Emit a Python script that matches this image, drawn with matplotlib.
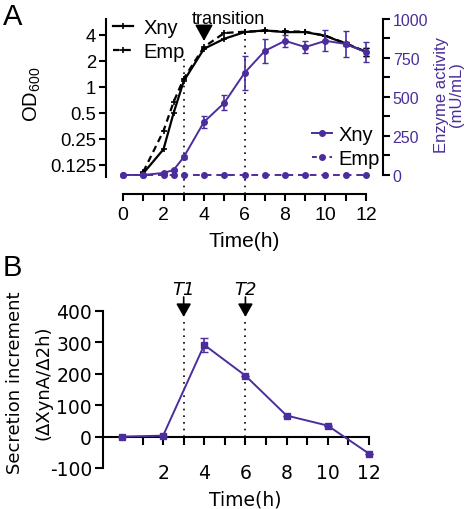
import matplotlib
matplotlib.use("Agg")
import matplotlib.pyplot as plt
import matplotlib.ticker as mticker
from matplotlib.lines import Line2D

# ---------------- data ----------------
t_od = [1, 2, 2.5, 3, 4, 5, 6, 7, 8, 9, 10, 11, 12]
od_xny = [0.1, 0.19, 0.5, 1.17, 2.76, 3.6, 4.3, 4.5, 4.3, 4.3, 3.9, 3.15, 2.54]
od_emp = [0.104, 0.31, 0.67, 1.25, 2.9, 4.2, 4.35, 4.45, 4.4, 4.35, 3.9, 3.2, 2.55]
od_err = [0, 0, 0, 0, 0, 0, 0, 0, 0, 0, 0, 0.15, 0.25]

t_enz = [0, 1, 2, 2.5, 3, 4, 5, 6, 7, 8, 9, 10, 11, 12]
enz_xny = [0, 0, 13, 32, 115, 340, 462, 654, 795, 860, 820, 860, 840, 788]
enz_xny_err = [0, 0, 5, 8, 10, 38, 48, 111, 77, 38, 38, 67, 85, 64]
enz_emp = [0, 0, 0, 0, 0, 0, 0, 0, 0, 0, 0, 0, 0, 0]

t_inc = [0, 2, 4, 6, 8, 10, 12]
inc = [0, 3, 292, 194, 67, 35, -54]
inc_err = [0, 0, 21, 0, 0, 0, 0]

od_ticks = [0.125, 0.25, 0.5, 1, 2, 4]
od_ticklabels = ["0.125", "0.25", "0.5", "1", "2", "4"]
enz_ticks = [0, 250, 500, 750, 1000]
marks_a = [3, 6]
marks_a_top = [2.1, 4.4]
marks_b = [3, 6]
marks_b_labels = ["T1", "T2"]

PURPLE = "#4B2E9C"
W, H = 474, 510

plt.rcParams["mathtext.fontset"] = "custom"
plt.rcParams["mathtext.rm"] = "Liberation Sans"
plt.rcParams["mathtext.it"] = "Liberation Sans:italic"
plt.rcParams["axes.unicode_minus"] = False

fig = plt.figure(figsize=(W / 100, H / 100), dpi=100)


def fx(px):
    return px / W


def fy(px):
    return 1 - px / H


FA = "Liberation Sans"
FB = "DejaVu Sans"
ARROW = "-|>,head_length=1.0,head_width=0.55"

# ---------------- Panel A ----------------
L, R, T, B = 106, 383, 20, 195
ax1 = fig.add_axes([fx(L), fy(B), fx(R - L), (B - T) / H])
ax1.set_yscale("log", base=2)
ax1.set_ylim(0.0577, 6.1)
ax1.set_xlim(-0.84, 12.84)

ax1.plot(t_od, od_xny, color="black", lw=1.6, marker="+", ms=5, mew=1.2, clip_on=False)
ax1.plot(t_od, od_emp, color="black", lw=1.6, ls=(0, (3, 2)), marker="+", ms=5,
         mew=1.2, clip_on=False)
for series in (od_xny, od_emp):
    xs = [t for t, e in zip(t_od, od_err) if e > 0]
    ys = [v for v, e in zip(series, od_err) if e > 0]
    es = [e for e in od_err if e > 0]
    ax1.errorbar(xs, ys, yerr=es, fmt="none", ecolor="black", elinewidth=1,
                 capsize=2.5)

ax1.set_yticks(od_ticks)
ax1.set_yticklabels(od_ticklabels)
ax1.yaxis.set_minor_locator(mticker.NullLocator())
ax1.set_xticks(range(0, 13, 2))
ax1.set_xticks(range(1, 13, 2), minor=True)
for sp in ["top", "right"]:
    ax1.spines[sp].set_visible(False)
ax1.spines["left"].set_bounds(0.091, 6.1)
ax1.spines["bottom"].set_bounds(0, 12)
for sp in ["left", "bottom"]:
    ax1.spines[sp].set_linewidth(1.5)
ax1.tick_params(axis="both", which="both", width=1.5, length=5)
ax1.tick_params(axis="y", pad=2, labelsize=13.3)
ax1.tick_params(axis="x", labelsize=14)
for lab in ax1.get_xticklabels() + ax1.get_yticklabels():
    lab.set_fontfamily(FA)

# dotted vertical markers
ax1.vlines(marks_a, 0.0577, marks_a_top, colors="black", linestyles=(0, (1, 3)), lw=1.2)

# transition arrow
ax1.annotate("", xy=(4, (B - 42) / (B - T)), xycoords=("data", "axes fraction"),
             xytext=(4, (B - 27) / (B - T)), textcoords=("data", "axes fraction"),
             arrowprops=dict(arrowstyle=ARROW, color="black", lw=1.2,
                             shrinkA=0, shrinkB=0))
ax1.text(5.2, (B - 24) / (B - T), "transition", transform=ax1.get_xaxis_transform(),
         ha="center", va="baseline", fontsize=13, family=FA)

h_black = [Line2D([], [], color="black", lw=1.6, marker="+", ms=5, mew=1.2),
           Line2D([], [], color="black", lw=1.6, ls=(0, (3, 2)), marker="+", ms=5, mew=1.2)]
ax1.legend(h_black, ["Xny", "Emp"], loc="upper left", bbox_to_anchor=(fx(113), fy(19)),
           bbox_transform=fig.transFigure, frameon=False, handlelength=1.0,
           handletextpad=0.5, labelspacing=0.25, borderaxespad=0, borderpad=0,
           prop={"family": FA, "size": 14.5})

ax2 = ax1.twinx()
ax2.set_ylim(-122, 1000)
ax2.errorbar(t_enz, enz_xny, yerr=enz_xny_err, color=PURPLE, lw=1.4, marker="o",
             ms=4, capsize=2.5, elinewidth=1.2, clip_on=False)
ax2.plot(t_enz, enz_emp, color=PURPLE, lw=1.4, ls=(0, (3.5, 2.5)), marker="o", ms=4,
         clip_on=False)
for sp in ["top", "left", "bottom"]:
    ax2.spines[sp].set_visible(False)
ax2.spines["right"].set_bounds(0, 1000)
ax2.spines["right"].set_linewidth(1.5)
ax2.set_yticks(enz_ticks)
ax2.set_yticks([125, 375, 625, 875], minor=True)
ax2.tick_params(axis="y", which="both", width=1.5, length=5, labelsize=11.5,
                labelcolor=PURPLE, pad=2)
for lab in ax2.get_yticklabels():
    lab.set_fontfamily(FA)
h_purple = [Line2D([], [], color=PURPLE, lw=1.4, marker="o", ms=4),
            Line2D([], [], color=PURPLE, lw=1.4, ls=(0, (2.5, 2)), marker="o", ms=4)]
ax2.legend(h_purple, ["Xny", "Emp"], loc="upper left", bbox_to_anchor=(fx(312), fy(126)),
           bbox_transform=fig.transFigure, frameon=False, handlelength=1.0,
           handletextpad=0.3, labelspacing=0.25, borderaxespad=0, borderpad=0,
           prop={"family": FA, "size": 14.5})

fig.text(fx(32), fy(94), "OD$_{600}$", rotation=90, ha="center", va="center",
         fontsize=14.5, family=FA)
fig.text(fx(449), fy(95), "Enzyme activity\n(mU/mL)", rotation=90, ha="center",
         va="center", fontsize=12, family=FA, color=PURPLE, linespacing=1.0)
fig.text(fx(244), fy(242), "Time(h)", ha="center", va="center", fontsize=15, family=FA)
fig.text(fx(3), fy(17), "A", ha="left", va="center", fontsize=21, family=FA)

# ---------------- Panel B ----------------
L2, R2, T2, B2 = 103, 372, 312, 469
axb = fig.add_axes([fx(L2), fy(B2), fx(R2 - L2), (B2 - T2) / H])
axb.set_ylim(-100, 400)
axb.set_xlim(-0.92, 12.15)
axb.errorbar(t_inc, inc, yerr=inc_err, color=PURPLE, lw=1.4, marker="s", ms=5,
             capsize=3, elinewidth=1.2, clip_on=False, zorder=3)
for sp in ["top", "right"]:
    axb.spines[sp].set_visible(False)
axb.spines["bottom"].set_position(("data", 0))
axb.spines["bottom"].set_bounds(-0.92, 12)
for sp in ["left", "bottom"]:
    axb.spines[sp].set_linewidth(1.5)
axb.set_yticks([-100, 0, 100, 200, 300, 400])
axb.set_xticks(range(2, 13, 2))
axb.set_xticks(range(1, 13, 2), minor=True)
axb.tick_params(axis="both", which="both", width=1.5, length=6, labelsize=13.5)
axb.tick_params(axis="x", pad=13)
axb.tick_params(axis="y", pad=2)
for lab in axb.get_xticklabels() + axb.get_yticklabels():
    lab.set_fontfamily(FB)

axb.vlines(marks_b, 0, 370, colors="black", linestyles=(0, (1, 3)), lw=1.2)
for xm, lbl in zip(marks_b, marks_b_labels):
    axb.annotate("", xy=(xm, (B2 - 318) / (B2 - T2)), xycoords=("data", "axes fraction"),
                 xytext=(xm, (B2 - 298) / (B2 - T2)), textcoords=("data", "axes fraction"),
                 arrowprops=dict(arrowstyle="-|>,head_length=0.8,head_width=0.45",
                                 color="black", lw=1.2, shrinkA=0, shrinkB=0))
    axb.text(xm, (B2 - 295) / (B2 - T2), lbl, transform=axb.get_xaxis_transform(),
             ha="center", va="baseline", fontsize=13, family=FB, style="italic")

fig.text(fx(15), fy(383), "Secretion increment", rotation=90, ha="center",
         va="center", fontsize=13, family=FB)
fig.text(fx(43), fy(383), "(\u0394XynA/\u03942h)", rotation=90, ha="center",
         va="center", fontsize=13, family=FB)
fig.text(fx(245), fy(500), "Time(h)", ha="center", va="center", fontsize=13.5, family=FB)
fig.text(fx(3), fy(268), "B", ha="left", va="center", fontsize=21, family=FA)

fig.savefig("out.png", dpi=100)
